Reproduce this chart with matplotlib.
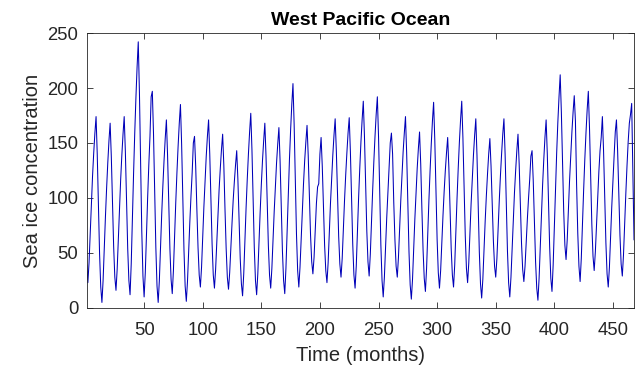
import matplotlib
matplotlib.use("Agg")
import matplotlib.pyplot as plt
import numpy as np

plt.rcParams['font.family'] = ['Liberation Sans', 'DejaVu Sans']

title = "West Pacific Ocean"
xlabel = "Time (months)"
ylabel = "Sea ice concentration"
xticks = [50, 100, 150, 200, 250, 300, 350, 400, 450]
yticks = [0, 50, 100, 150, 200, 250]

# monthly values, one row per year (Jan..Dec)
y00 = [39, 23, 41, 68, 95, 120, 141, 159, 174, 140, 93, 49]
y01 = [19, 5, 25, 54, 83, 109, 132, 152, 168, 138, 95, 56]
y02 = [28, 16, 35, 63, 92, 117, 139, 158, 174, 142, 96, 54]
y03 = [25, 12, 40, 81, 122, 159, 191, 219, 242, 196, 131, 70]
y04 = [29, 10, 32, 66, 100, 130, 156, 192, 197, 159, 105, 55]
y05 = [20, 5, 25, 55, 85, 111, 134, 154, 171, 139, 95, 54]
y06 = [26, 13, 34, 65, 96, 123, 147, 168, 185, 149, 99, 53]
y07 = [20, 6, 24, 51, 78, 102, 123, 150, 156, 129, 90, 55]
y08 = [30, 19, 37, 65, 92, 116, 138, 156, 171, 140, 98, 58]
y09 = [30, 18, 35, 60, 85, 108, 127, 144, 158, 130, 90, 54]
y10 = [28, 17, 32, 55, 77, 98, 115, 130, 143, 117, 80, 45]
y11 = [22, 11, 31, 61, 91, 117, 140, 160, 177, 144, 98, 55]
y12 = [25, 12, 31, 59, 87, 112, 134, 152, 168, 138, 96, 57]
y13 = [30, 18, 36, 62, 88, 111, 132, 149, 164, 134, 92, 52]
y14 = [25, 13, 36, 70, 105, 135, 162, 185, 204, 167, 115, 67]
y15 = [34, 19, 37, 63, 90, 113, 134, 151, 166, 139, 101, 66]
y16 = [42, 31, 46, 70, 95, 110, 113, 140, 155, 129, 92, 57]
y17 = [34, 23, 41, 68, 95, 118, 139, 157, 172, 143, 103, 65]
y18 = [40, 28, 45, 72, 98, 121, 141, 159, 173, 142, 99, 58]
y19 = [30, 18, 38, 69, 100, 127, 151, 171, 188, 156, 112, 70]
y20 = [42, 29, 49, 78, 107, 133, 156, 176, 192, 156, 105, 57]
y21 = [25, 10, 28, 55, 82, 105, 126, 150, 159, 140, 96, 62]
y22 = [38, 28, 46, 72, 98, 121, 142, 159, 174, 141, 94, 51]
y23 = [21, 8, 26, 54, 81, 105, 127, 145, 160, 131, 90, 53]
y24 = [27, 15, 36, 67, 98, 125, 149, 170, 187, 153, 106, 62]
y25 = [32, 18, 34, 59, 84, 106, 125, 141, 155, 128, 90, 54]
y26 = [30, 19, 39, 70, 100, 127, 151, 171, 188, 155, 109, 66]
y27 = [36, 23, 41, 68, 95, 118, 139, 157, 172, 139, 94, 51]
y28 = [22, 9, 26, 53, 79, 102, 122, 140, 154, 129, 94, 61]
y29 = [38, 28, 45, 71, 97, 120, 140, 158, 172, 140, 94, 52]
y30 = [23, 10, 28, 54, 81, 105, 125, 143, 158, 131, 94, 59]
y31 = [35, 24, 38, 60, 81, 100, 117, 138, 143, 116, 78, 42]
y32 = [18, 7, 27, 56, 86, 112, 135, 155, 171, 140, 96, 56]
y33 = [27, 15, 39, 74, 110, 141, 169, 192, 212, 178, 131, 88]
y34 = [57, 44, 62, 89, 116, 139, 160, 178, 193, 170, 112, 68]
y35 = [38, 24, 45, 76, 107, 135, 159, 180, 197, 164, 119, 76]
y36 = [47, 34, 51, 76, 101, 124, 143, 155, 174, 143, 100, 59]
y37 = [31, 19, 37, 65, 92, 116, 138, 160, 171, 143, 103, 66]
y38 = [40, 29, 48, 76, 104, 129, 151, 168, 176, 186, 125, 62]

years = [y00, y01, y02, y03, y04, y05, y06, y07, y08, y09, y10, y11, y12,
         y13, y14, y15, y16, y17, y18, y19, y20, y21, y22, y23, y24, y25,
         y26, y27, y28, y29, y30, y31, y32, y33, y34, y35, y36, y37, y38]
values = np.concatenate([np.array(y, dtype=float) for y in years])
months = np.arange(1, len(values) + 1)

fig = plt.figure(figsize=(6.36, 3.71), dpi=100)
ax = fig.add_axes([0.1363, 0.170, 0.8606, 0.741])
ax.plot(months, values, color='#0000b8', lw=0.75)
ax.set_xlim(1, len(values))
ax.set_ylim(0, 250)
ax.set_xticks(xticks)
ax.set_yticks(yticks)
ax.tick_params(direction='in', top=True, right=True, length=4, width=0.6,
               colors='#262626', labelsize=13.3, labelcolor='#262626')
ax.tick_params(axis='x', pad=10)
ax.tick_params(axis='y', pad=6)
for s in ax.spines.values():
    s.set_color('#262626')
    s.set_linewidth(0.6)
ax.set_title(title, fontsize=14, fontweight='bold', color='black', pad=6)
ax.set_xlabel(xlabel, fontsize=14.5, color='#262626', labelpad=5)
ax.set_ylabel(ylabel, fontsize=14.5, color='#262626', labelpad=4)
fig.savefig("out.png", dpi=100)
